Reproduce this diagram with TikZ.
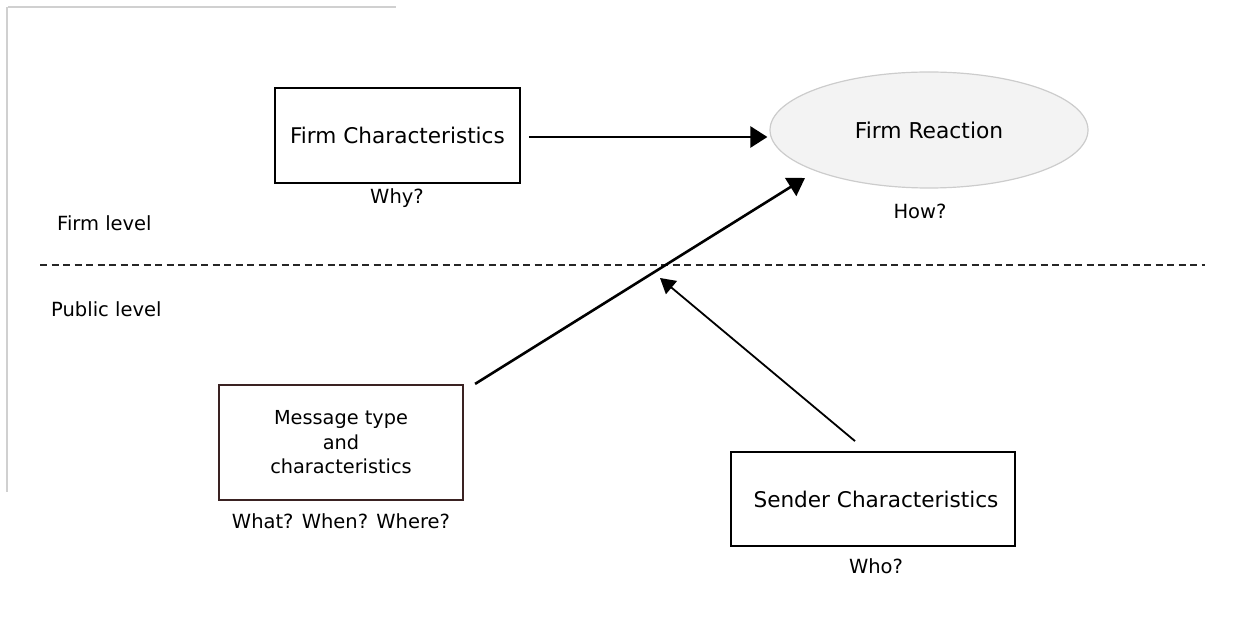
\documentclass[tikz,border=0pt]{standalone}
\usepackage{fontspec}
\setmainfont{DejaVu Sans}
\usetikzlibrary{arrows.meta,shapes.geometric}
\definecolor{framegrey}{HTML}{D0D0D0}
\definecolor{ovalfill}{HTML}{F3F3F3}
\definecolor{ovaledge}{HTML}{CCCCCC}
\definecolor{brownedge}{HTML}{3A2222}
\begin{document}
\begin{tikzpicture}[x=1pt,y=-1pt,
  box/.style={draw=black,line width=1.8pt,rectangle,inner sep=0pt,
    font=\fontsize{21.6}{26}\selectfont,align=center},
  question/.style={font=\fontsize{19.5}{23}\selectfont,inner sep=0pt},
  levellabel/.style={font=\fontsize{19.5}{23}\selectfont,inner sep=0pt,anchor=west},
  thickarrow/.style={line width=2.6pt,-{Triangle[length=17pt,width=21pt]}},
  thinarrow/.style={line width=1.8pt,-{Triangle[length=15pt,width=17pt]}}]
  \useasboundingbox (0,0) rectangle (1238,628);
  % faint frame edges
  \draw[framegrey,line width=1.2pt] (8,7) -- (396,7);
  \draw[framegrey,line width=1.2pt] (7,7) -- (7,492);

  % level separator
  \draw[line width=1.9pt,black!85,dash pattern=on 7pt off 4.5pt] (40,265) -- (1205,265);
  \node[levellabel] (firmlvl) at (57,223) {Firm level};
  \node[levellabel] (publvl) at (51,309) {Public level};

  % boxes
  \node[box,minimum width=245pt,minimum height=95pt] (fc) at (397.5,135.5) {Firm Characteristics};
  \node[ellipse,draw=ovaledge,fill=ovalfill,line width=1.2pt,minimum width=318pt,minimum height=116pt,
        inner sep=0pt,font=\fontsize{21.8}{26}\selectfont] (fr) at (929,130) {Firm Reaction};
  \node[box,draw=brownedge,line width=2.2pt,minimum width=244pt,minimum height=115pt,
        font=\fontsize{19.3}{24.5}\selectfont] (msg) at (341,442.5) {Message type\\and\\characteristics};
  \node[box,minimum width=284pt,minimum height=94pt] (snd) at (873,499) {\hspace*{6pt}Sender Characteristics};

  % question labels
  \node[question] (why) at (397,198) {Why?};
  \node[question] (how) at (920,211) {How?};
  \node[question] (wwq) at (341,521) {What? When? Where?};
  \node[question] (who) at (876,566) {Who?};

  % connectors
  \coordinate (frin) at (805,178);
  \coordinate (cross) at (660,278);
  \draw[thickarrow,shorten <=8pt,shorten >=2pt] ([yshift=-1.5pt]fc.east) -- ([yshift=-1.5pt]fr.west |- fc.east);
  \draw[thickarrow] ([xshift=11pt]msg.north east) -- (frin);
  \draw[thinarrow] ([xshift=-18pt,yshift=10pt]snd.north) -- (cross);
\end{tikzpicture}
\end{document}
